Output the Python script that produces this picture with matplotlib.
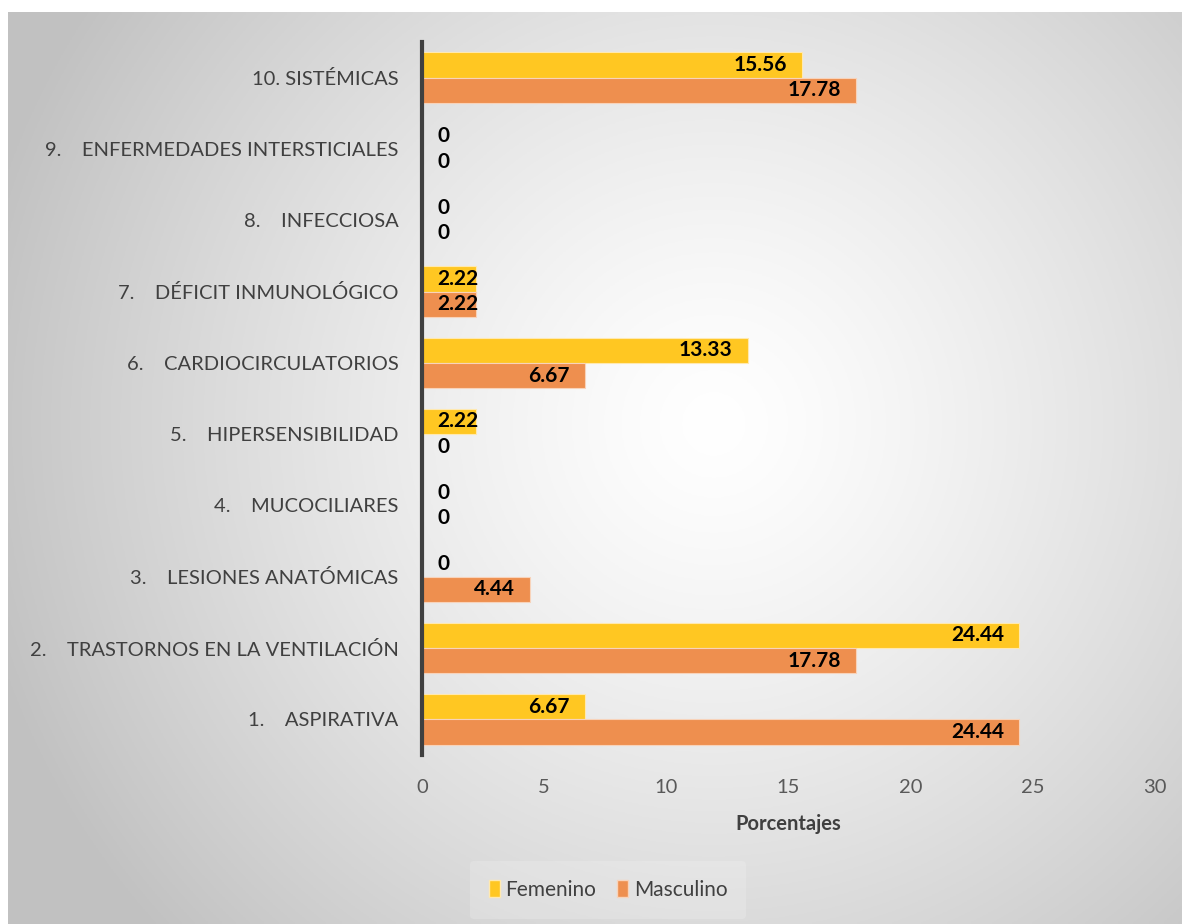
import numpy as np
import matplotlib
matplotlib.use("Agg")
import matplotlib.pyplot as plt
from matplotlib.patches import Patch

categories = ["1.    ASPIRATIVA", "2.    TRASTORNOS EN LA VENTILACIÓN", "3.    LESIONES ANATÓMICAS",
              "4.    MUCOCILIARES", "5.    HIPERSENSIBILIDAD", "6.    CARDIOCIRCULATORIOS",
              "7.    DÉFICIT INMUNOLÓGICO", "8.    INFECCIOSA", "9.    ENFERMEDADES INTERSTICIALES",
              "10. SISTÉMICAS"]
femenino = [6.67, 24.44, 0, 0, 2.22, 13.33, 2.22, 0, 0, 15.56]
masculino = [24.44, 17.78, 4.44, 0, 0, 6.67, 2.22, 0, 0, 17.78]
xticks = [0, 5, 10, 15, 20, 25, 30]

plt.rcParams['font.family'] = ['Lato', 'DejaVu Sans']
W, H = 11.82, 9.24
fig = plt.figure(figsize=(W, H), dpi=100)

# background radial gradient
bg = fig.add_axes([8/1182, 0, 1 - 8/1182, (924-12)/924])
bg.set_axis_off()
ny, nx = 300, 400
yy, xx = np.mgrid[0:ny, 0:nx]
cx, cy = 0.6*nx, 0.45*ny
d = np.sqrt(((xx-cx)/nx)**2 + ((yy-cy)/ny*0.78)**2)
d = d / d.max()
val = 1.0 - 0.24*np.clip(d*1.15, 0, 1)**1.3
img = np.dstack([val, val, val])
bg.imshow(img, aspect='auto', extent=[0, 1, 0, 1], origin='upper')
bg.set_xlim(0, 1); bg.set_ylim(0, 1)

ax = fig.add_axes([422/1182, 1 - 755/924, (1155-422)/1182, (755-42)/924])
ax.patch.set_alpha(0)
y = np.arange(len(categories))
h = 0.355
yellow = "#FFC722"
orange = "#EE8F4F"
ax.barh(y + h/2, femenino, height=h, color=yellow, edgecolor="#FFE9B0", linewidth=0.8, zorder=2)
ax.barh(y - h/2, masculino, height=h, color=orange, edgecolor="#F8D3BA", linewidth=0.8, zorder=2)

ax.set_xlim(0, 30)
ax.set_ylim(-0.5, len(categories) - 0.5)
ax.set_xticks(xticks)
ax.set_xticklabels([str(t) for t in xticks], fontsize=14.5, color="#595959")
ax.set_yticks(y)
ax.set_yticklabels(categories, fontsize=14.5, color="#404040")
ax.tick_params(axis='x', length=0, pad=17)
ax.tick_params(axis='y', length=0, pad=17)
for s in ['top', 'right', 'bottom']:
    ax.spines[s].set_visible(False)
ax.spines['left'].set_color("#404040")
ax.spines['left'].set_linewidth(3)
ax.spines['left'].set_zorder(3)
ax.set_xlabel("Porcentajes", fontsize=14.5, fontweight='bold', color="#404040", labelpad=13)

def label(vals, ypos):
    for v, yp in zip(vals, ypos):
        if v < 3:
            ax.annotate(f"{v:.2f}" if v else "0", (0, yp), xytext=(11, 0), textcoords='offset points',
                        ha='left', va='center', fontsize=15, fontweight='bold', color='black', zorder=4)
        else:
            ax.annotate(f"{v:.2f}", (v, yp), xytext=(-11, 0), textcoords='offset points',
                        ha='right', va='center', fontsize=15, fontweight='bold', color='black', zorder=4)

label(femenino, y + h/2)
label(masculino, y - h/2)

handles = [Patch(facecolor=yellow, edgecolor="#FFE9B0"), Patch(facecolor=orange, edgecolor="#F8D3BA")]
leg = fig.legend(handles, ["Femenino", "Masculino"], loc='center', bbox_to_anchor=(608/1182, 1 - 890/924),
                 ncol=2, frameon=True, fontsize=15, handlelength=0.55, handleheight=0.85,
                 handletextpad=0.25, columnspacing=1.0, borderpad=0.9)
leg.get_frame().set_facecolor("#F4F4F4")
leg.get_frame().set_edgecolor("none")
leg.get_frame().set_alpha(0.25)
for t in leg.get_texts():
    t.set_color("#404040")

fig.savefig("out.png", dpi=100)
